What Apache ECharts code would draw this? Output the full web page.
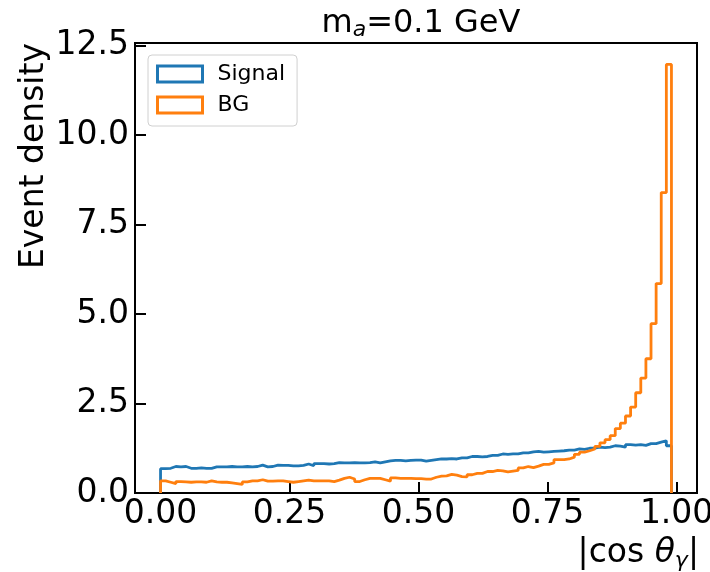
<!DOCTYPE html>
<html>
<head>
<meta charset="utf-8">
<script src="https://cdn.jsdelivr.net/npm/echarts@6/dist/echarts.min.js"></script>
<style>html,body{margin:0;padding:0;background:#fff}#c{width:710px;height:572px}</style>
</head>
<body>
<div id="c"></div>
<script>
// Histogram binning: 100 bins from 0 to 0.99
const binLow = 0.0;
const binHigh = 0.99;
const nBins = 100;

// Signal event density per bin
const signalValues = [0.68,0.69,0.74,0.73,0.74,0.69,0.69,0.70,0.69,0.69,
  0.73,0.73,0.73,0.74,0.73,0.73,0.74,0.73,0.74,0.78,
  0.73,0.74,0.78,0.77,0.77,
  0.76,0.76,0.77,0.81,0.76,
  0.82,0.82,0.81,0.82,0.85,
  0.84,0.84,0.85,0.84,0.84,0.85,0.87,0.84,0.87,
  0.90,0.91,0.91,0.90,0.91,
  0.92,0.92,0.89,0.91,0.93,
  0.95,0.95,0.96,0.95,0.98,0.98,
  1.02,1.02,1.01,1.02,1.05,1.05,
  1.09,1.08,1.09,1.09,1.12,1.12,
  1.15,1.16,1.14,1.15,1.16,1.17,1.18,1.20,1.20,
  1.23,1.22,1.25,1.25,1.28,1.27,1.28,1.32,1.31,
  1.28,1.35,1.34,1.35,1.33,1.38,1.38,1.42,1.46,1.32];

// Background event density per bin
const bgValues = [0.34,0.30,0.26,0.32,0.31,0.30,0.31,0.31,0.30,0.34,0.31,0.30,0.30,0.28,0.26,0.24,0.31,0.34,0.34,0.37,0.33,0.33,0.34,0.34,0.32,
  0.30,0.32,0.34,0.36,0.34,0.34,0.34,0.34,0.32,0.36,0.41,0.44,0.39,0.32,0.37,0.41,0.41,0.41,0.37,0.33,0.42,0.41,0.41,0.41,
  0.40,0.40,0.39,0.39,0.44,0.47,0.48,0.52,0.50,0.46,0.45,0.51,0.55,0.55,0.60,0.60,0.63,0.62,0.59,0.61,0.63,0.70,0.74,0.71,0.75,0.80,
  0.80,0.84,0.93,0.93,0.95,1.00,1.08,1.14,1.18,1.23,1.30,1.40,1.49,1.60,1.80,1.95,2.15,2.40,2.80,3.21,3.75,4.73,5.85,8.39,11.97];

const xTicks = [0, 0.25, 0.5, 0.75, 1.0];
const yTicks = [0, 2.5, 5.0, 7.5, 10.0, 12.5];

const seriesNames = ['Signal', 'BG'];
const colors = ['#1f77b4', '#ff7f0e'];

function stepPath(vals) {
  const w = (binHigh - binLow) / nBins;
  const pts = [[binLow, 0]];
  for (let i = 0; i < vals.length; i++) {
    const x0 = binLow + i * w, x1 = binLow + (i + 1) * w;
    pts.push([x0, vals[i]]);
    pts.push([x1, vals[i]]);
  }
  pts.push([binHigh, 0]);
  return pts;
}

const xmargin = (binHigh - binLow) * 0.05;
const ymax = Math.max(...bgValues, ...signalValues) * 1.05;
const FONT = 'DejaVu Sans';
const FS = 33;

const chart = echarts.init(document.getElementById('c'), null, {renderer: 'canvas'});
chart.setOption({
  animation: false,
  backgroundColor: '#fff',
  textStyle: {fontFamily: FONT, color: '#000'},
  title: {
    text: 'm{sub|a}=0.1 GeV',
    left: 416, top: 1, textAlign: 'center',
    textStyle: {fontFamily: FONT, fontSize: 32, fontWeight: 'normal', color: '#000',
      rich: {sub: {fontFamily: FONT, fontSize: 22, fontStyle: 'italic', verticalAlign: 'bottom', padding: [13, 0, 0, 0], color: '#000'}}}
  },
  grid: {left: 135, right: 13, top: 43, bottom: 79, show: true, borderColor: '#000', borderWidth: 2,
    containLabel: false, outerBoundsMode: 'none'},
  legend: {
    left: 148, top: 55, orient: 'vertical',
    data: seriesNames.map((n, i) => ({name: n, icon: 'rect',
      itemStyle: {color: '#fff', borderColor: colors[i], borderWidth: 3}})),
    itemWidth: 45, itemHeight: 16, itemGap: 9,
    padding: [8, 12, 10, 8],
    backgroundColor: 'rgba(255,255,255,0.8)', borderColor: '#d0d0d0', borderWidth: 1, borderRadius: 4,
    textStyle: {fontFamily: FONT, fontSize: 22, color: '#000', padding: [0, 0, 0, 10]}
  },
  xAxis: {
    type: 'value', min: binLow - xmargin, max: binHigh + xmargin,
    name: '|cos {it|θ}{sub|γ}|', nameLocation: 'end', nameGap: 2,
    nameTextStyle: {fontFamily: FONT, fontSize: FS, color: '#000', align: 'right', verticalAlign: 'top', padding: [42, 0, 0, 0],
      rich: {
        it: {fontFamily: FONT, fontSize: FS, fontStyle: 'italic', color: '#000'},
        sub: {fontFamily: FONT, fontSize: 22, fontStyle: 'italic', verticalAlign: 'bottom', padding: [15, 0, 0, 0], color: '#000'}}},
    axisLine: {show: true, onZero: false, lineStyle: {color: '#000', width: 2}},
    axisTick: {show: true, inside: true, length: 11, lineStyle: {color: '#000', width: 2}, customValues: xTicks},
    axisLabel: {fontFamily: FONT, fontSize: FS, color: '#000', margin: 5, customValues: xTicks,
      formatter: v => v.toFixed(2)},
    splitLine: {show: false}
  },
  yAxis: {
    type: 'value', min: 0, max: ymax,
    name: 'Event density', nameLocation: 'end', nameGap: 0, nameRotate: 90,
    nameTextStyle: {fontFamily: FONT, fontSize: FS, color: '#000', align: 'right', verticalAlign: 'bottom', padding: [0, 0, 84, 0]},
    axisLine: {show: true, onZero: false, lineStyle: {color: '#000', width: 2}},
    axisTick: {show: true, inside: true, length: 11, lineStyle: {color: '#000', width: 2}, customValues: yTicks},
    axisLabel: {fontFamily: FONT, fontSize: FS, color: '#000', margin: 6, customValues: yTicks,
      formatter: v => v.toFixed(1)},
    splitLine: {show: false}
  },
  series: [
    {name: seriesNames[0], type: 'line', data: stepPath(signalValues), symbol: 'none',
      lineStyle: {color: colors[0], width: 2.8}, itemStyle: {color: colors[0]}, z: 2},
    {name: seriesNames[1], type: 'line', data: stepPath(bgValues), symbol: 'none',
      lineStyle: {color: colors[1], width: 2.8}, itemStyle: {color: colors[1]}, z: 3}
  ]
});
</script>
</body>
</html>
